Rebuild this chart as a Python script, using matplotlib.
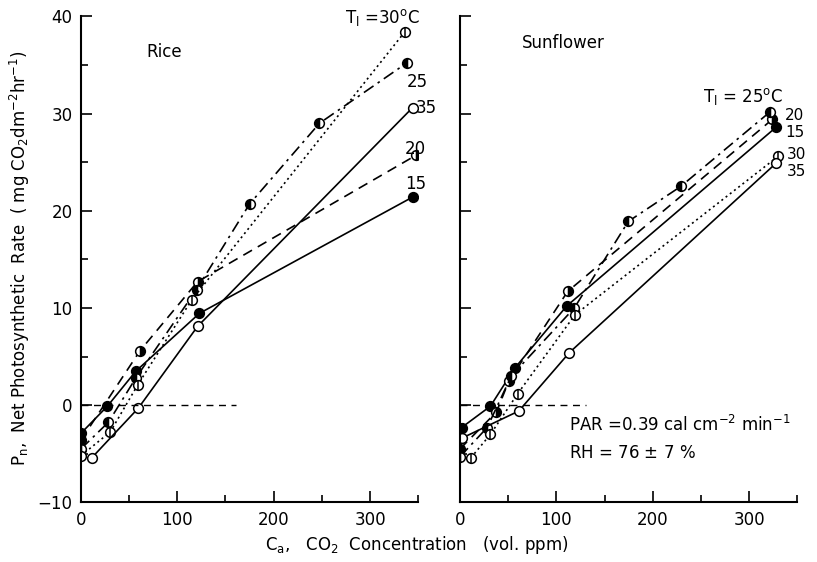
import matplotlib.pyplot as plt
from matplotlib.ticker import MultipleLocator

# Rice: leaf temperature (degC) -> CO2 (ppm), net photosynthesis
rice_15_x = [0, 27.5, 57, 123, 344]
rice_15_y = [-2.9, -0.1, 3.5, 9.45, 21.4]
rice_20_x = [0, 61.3, 121, 347.5]
rice_20_y = [-3.6, 5.6, 12.7, 25.7]
rice_25_x = [0, 28.6, 57, 120, 175, 247.5, 338]
rice_25_y = [-4.5, -1.75, 2.8, 11.9, 20.7, 29.0, 35.2]
rice_30_x = [0, 30.5, 59, 114.8, 336]
rice_30_y = [-5.2, -2.75, 2.1, 10.8, 38.4]
rice_35_x = [11.4, 59.6, 121, 344]
rice_35_y = [-5.4, -0.3, 8.1, 30.6]

# Sunflower
sun_15_x = [1.7, 31.6, 56.7, 110.7, 328]
sun_15_y = [-2.3, -0.1, 3.8, 10.2, 28.6]
sun_20_x = [0, 37.8, 50.8, 111.7, 324]
sun_20_y = [-4.5, -0.7, 2.5, 11.7, 29.4]
sun_25_x = [0, 28.2, 53.2, 118.6, 174.6, 229, 322]
sun_25_y = [-5.3, -2.3, 3.0, 10.0, 18.9, 22.5, 30.2]
sun_30_x = [11.4, 31.6, 60, 119.3, 330]
sun_30_y = [-5.4, -3.0, 1.2, 9.3, 25.6]
sun_35_x = [1.7, 61, 113.4, 328]
sun_35_y = [-3.4, -0.6, 5.4, 24.9]

plt.rcParams['font.family'] = 'DejaVu Sans'
plt.rcParams['mathtext.default'] = 'regular'

fig = plt.figure(figsize=(8.17, 5.62), dpi=100)
ax1 = fig.add_axes([0.099, 0.106, 0.413, 0.865])
ax2 = fig.add_axes([0.563, 0.106, 0.413, 0.865])

LW = 1.2
MS = 7


def draw(ax, x, y, ls, kind):
    kw = dict(color='black', lw=LW, ls=ls, ms=MS, mew=1.1, mec='black')
    if kind == 'filled':
        ax.plot(x, y, marker='o', mfc='black', **kw)
    elif kind == 'open':
        ax.plot(x, y, marker='o', mfc='white', **kw)
    elif kind == 'left':
        ax.plot(x, y, marker='o', fillstyle='left', mfc='black',
                markerfacecoloralt='white', **kw)
    elif kind == 'right':
        ax.plot(x, y, marker='o', fillstyle='right', mfc='black',
                markerfacecoloralt='white', **kw)
    elif kind == 'bar':
        ax.plot(x, y, marker='o', mfc='white', **kw)
        ax.plot(x, y, ls='none', marker='|', ms=MS, mew=1.1, color='black')


draw(ax1, rice_15_x, rice_15_y, '-', 'filled')
draw(ax1, rice_20_x, rice_20_y, (0, (6, 4)), 'right')
draw(ax1, rice_25_x, rice_25_y, (0, (7, 3, 1.5, 3)), 'left')
draw(ax1, rice_30_x, rice_30_y, (0, (1.2, 2)), 'bar')
draw(ax1, rice_35_x, rice_35_y, '-', 'open')

draw(ax2, sun_15_x, sun_15_y, '-', 'filled')
draw(ax2, sun_20_x, sun_20_y, (0, (6, 4)), 'right')
draw(ax2, sun_25_x, sun_25_y, (0, (7, 3, 1.5, 3)), 'left')
draw(ax2, sun_30_x, sun_30_y, (0, (1.2, 2)), 'bar')
draw(ax2, sun_35_x, sun_35_y, '-', 'open')

# zero reference lines
ax1.plot([0, 161], [0, 0], color='black', lw=1.0, ls=(0, (5, 4)))
ax2.plot([0, 131], [0, 0], color='black', lw=1.0, ls=(0, (5, 4)))

for ax in (ax1, ax2):
    ax.set_xlim(0, 350)
    ax.set_ylim(-10, 40)
    ax.spines['top'].set_visible(False)
    ax.spines['right'].set_visible(False)
    ax.spines['left'].set_linewidth(1.5)
    ax.spines['bottom'].set_linewidth(1.5)
    ax.xaxis.set_major_locator(MultipleLocator(100))
    ax.xaxis.set_minor_locator(MultipleLocator(50))
    ax.yaxis.set_major_locator(MultipleLocator(10))
    ax.yaxis.set_minor_locator(MultipleLocator(5))
    ax.tick_params(which='major', direction='in', length=8, width=1.2,
                   labelsize=12, pad=6)
    ax.tick_params(which='minor', direction='in', length=5, width=1.2)

ax2.tick_params(axis='y', which='both', labelleft=False)

ax1.text(68, 36.3, 'Rice', fontsize=12, va='center')
ax2.text(64, 37.3, 'Sunflower', fontsize=12, va='center')

# temperature labels at line ends
ax1.text(352, 39.9, r'T$_l$ =30$^o$C', fontsize=12, ha='right', va='center')
ax1.text(338, 33.2, '25', fontsize=12, va='center')
ax1.text(347, 30.6, '35', fontsize=12, va='center')
ax1.text(336, 26.3, '20', fontsize=12, va='center')
ax1.text(336, 22.8, '15', fontsize=12, va='center')

ax2.text(294, 31.8, r'T$_l$ = 25$^o$C', fontsize=12, ha='center', va='center')
ax2.text(337, 29.8, '20', fontsize=11, va='center')
ax2.text(337, 28.0, '15', fontsize=11, va='center')
ax2.text(339, 25.8, '30', fontsize=11, va='center')
ax2.text(339, 24.0, '35', fontsize=11, va='center')

ax2.text(113, -2.0, r'PAR =0.39 cal cm$^{-2}$ min$^{-1}$', fontsize=12,
         va='center')
ax2.text(113, -4.9, r'RH = 76 $\pm$ 7 %', fontsize=12, va='center')

fig.text(0.024, 0.54,
         r'P$_n$,  Net Photosynthetic  Rate  ( mg CO$_2$dm$^{-2}$hr$^{-1}$)',
         rotation=90, ha='center', va='center', fontsize=12)
fig.text(0.51, 0.03, r'C$_a$,   CO$_2$  Concentration   (vol. ppm)',
         ha='center', va='center', fontsize=12)

fig.savefig('out.png', dpi=100)
